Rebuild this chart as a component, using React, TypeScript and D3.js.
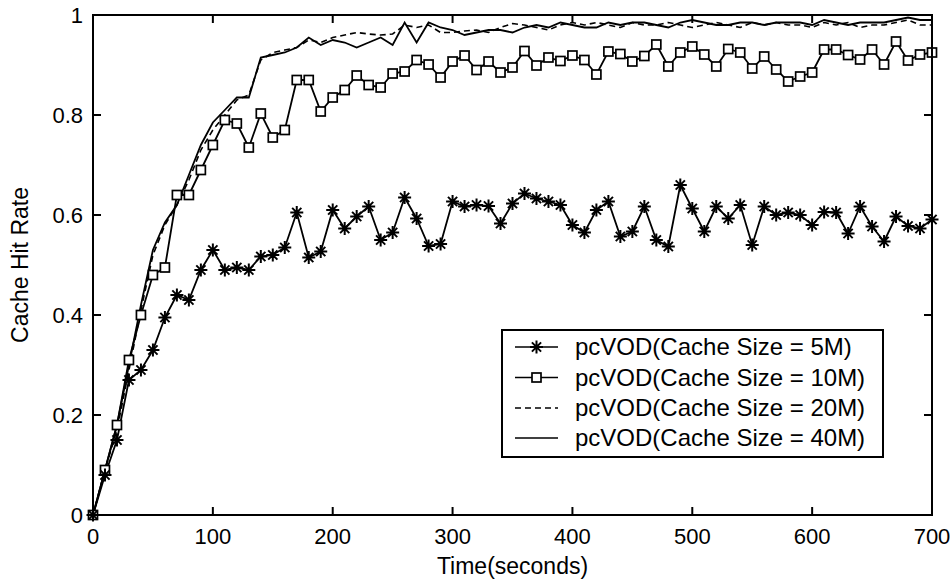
import React from "react";
import * as d3 from "d3";

// sampling times (seconds)
const times = [
  0, 10, 20, 30, 40, 50, 60, 70, 80, 90, 100, 110, 120, 130, 140, 150, 160, 170, 180, 190,
  200, 210, 220, 230, 240, 250, 260, 270, 280, 290, 300, 310, 320, 330, 340, 350, 360, 370, 380, 390,
  400, 410, 420, 430, 440, 450, 460, 470, 480, 490, 500, 510, 520, 530, 540, 550, 560, 570, 580, 590,
  600, 610, 620, 630, 640, 650, 660, 670, 680, 690, 700,
];

const hit5M = [
  0, 0.08, 0.15, 0.27, 0.29, 0.33, 0.395, 0.44, 0.43, 0.49, 0.53, 0.49, 0.495, 0.49, 0.517, 0.52, 0.535, 0.605, 0.515, 0.527,
  0.61, 0.573, 0.597, 0.617, 0.55, 0.565, 0.635, 0.593, 0.538, 0.542, 0.627, 0.617, 0.62, 0.618, 0.583, 0.623, 0.643, 0.633, 0.627, 0.62,
  0.58, 0.565, 0.61, 0.627, 0.557, 0.567, 0.617, 0.55, 0.537, 0.66, 0.613, 0.567, 0.617, 0.593, 0.62, 0.54, 0.617, 0.6, 0.605, 0.6,
  0.58, 0.606, 0.605, 0.563, 0.617, 0.577, 0.547, 0.597, 0.578, 0.573, 0.591,
];

const hit10M = [
  0, 0.09, 0.18, 0.31, 0.4, 0.48, 0.495, 0.64, 0.64, 0.69, 0.74, 0.79, 0.783, 0.735, 0.803, 0.755, 0.77, 0.87, 0.87, 0.807,
  0.835, 0.85, 0.879, 0.86, 0.855, 0.883, 0.887, 0.91, 0.901, 0.875, 0.907, 0.919, 0.89, 0.907, 0.885, 0.895, 0.928, 0.899, 0.915, 0.908,
  0.919, 0.91, 0.881, 0.927, 0.922, 0.907, 0.918, 0.941, 0.897, 0.925, 0.937, 0.921, 0.897, 0.932, 0.925, 0.893, 0.917, 0.891, 0.867, 0.877,
  0.885, 0.931, 0.931, 0.92, 0.911, 0.931, 0.901, 0.947, 0.909, 0.921, 0.925,
];

const hit20M = [
  0, 0.09, 0.17, 0.29, 0.41, 0.52, 0.58, 0.62, 0.67, 0.73, 0.77, 0.8, 0.83, 0.84, 0.91, 0.925, 0.93, 0.935, 0.95, 0.945,
  0.955, 0.96, 0.965, 0.962, 0.96, 0.962, 0.98, 0.975, 0.98, 0.965, 0.965, 0.968, 0.97, 0.965, 0.975, 0.983, 0.98, 0.975, 0.97, 0.98,
  0.985, 0.98, 0.985, 0.98, 0.975, 0.985, 0.98, 0.98, 0.985, 0.98, 0.975, 0.98, 0.985, 0.98, 0.975, 0.985, 0.98, 0.985, 0.98, 0.98,
  0.975, 0.985, 0.98, 0.985, 0.975, 0.98, 0.98, 0.985, 0.99, 0.98, 0.98,
];

const hit40M = [
  0, 0.09, 0.18, 0.3, 0.42, 0.53, 0.585, 0.62, 0.68, 0.74, 0.785, 0.81, 0.835, 0.835, 0.915, 0.92, 0.925, 0.935, 0.955, 0.94,
  0.95, 0.945, 0.935, 0.945, 0.955, 0.94, 0.985, 0.945, 0.985, 0.975, 0.97, 0.96, 0.965, 0.97, 0.97, 0.965, 0.975, 0.98, 0.975, 0.985,
  0.98, 0.975, 0.975, 0.985, 0.98, 0.985, 0.985, 0.98, 0.975, 0.985, 0.99, 0.985, 0.98, 0.98, 0.985, 0.985, 0.98, 0.985, 0.985, 0.985,
  0.98, 0.99, 0.985, 0.98, 0.985, 0.985, 0.985, 0.99, 0.995, 0.99, 0.99,
];

const xTicks = [0, 100, 200, 300, 400, 500, 600, 700];
const yTicks = [0, 0.2, 0.4, 0.6, 0.8, 1];
const yTickLabels = ["0", "0.2", "0.4", "0.6", "0.8", "1"];
const legendLabels = [
  "pcVOD(Cache Size = 5M)",
  "pcVOD(Cache Size = 10M)",
  "pcVOD(Cache Size = 20M)",
  "pcVOD(Cache Size = 40M)",
];

const W = 951;
const H = 583;
const font = "'Liberation Sans', Arial, sans-serif";
const starPath = "M-6.5,0H6.5M0,-6.5V6.5M-4.6,-4.6L4.6,4.6M-4.6,4.6L4.6,-4.6";

const Star = ({ cx, cy }: { cx: number; cy: number }) => (
  <path d={starPath} transform={`translate(${cx},${cy})`} stroke="#000" strokeWidth={2} fill="none" />
);

const Square = ({ cx, cy }: { cx: number; cy: number }) => (
  <rect x={cx - 4.5} y={cy - 4.5} width={9} height={9} fill="#fff" stroke="#000" strokeWidth={1.7} />
);

const App = () => {
  const x = d3.scaleLinear().domain([0, 700]).range([93, 932]);
  const y = d3.scaleLinear().domain([0, 1]).range([515, 15]);
  const line = d3
    .line<number>()
    .x((d, i) => x(times[i]))
    .y((d) => y(d));

  const [x0, x1] = x.range();
  const [y0, y1] = y.range();
  const tick = 8;

  const legX = 502;
  const legY = 330;
  const legW = 381;
  const legH = 127;
  const rows = [347, 377.5, 408, 438];
  const sx0 = 515;
  const sx1 = 558;

  return (
    <svg
      width={W}
      height={H}
      style={{ position: "absolute", left: 0, top: 0, background: "#fff" }}
      fontFamily={font}
    >
      <rect width={W} height={H} fill="#fff" />

      {/* series */}
      <path d={line(hit40M) || ""} fill="none" stroke="#000" strokeWidth={1.8} />
      <path d={line(hit20M) || ""} fill="none" stroke="#000" strokeWidth={1.6} strokeDasharray="6,4" />
      <path d={line(hit10M) || ""} fill="none" stroke="#000" strokeWidth={1.8} />
      <path d={line(hit5M) || ""} fill="none" stroke="#000" strokeWidth={1.8} />
      {hit10M.map((v, i) => (
        <Square key={"s" + i} cx={x(times[i])} cy={y(v)} />
      ))}
      {hit5M.map((v, i) => (
        <Star key={"t" + i} cx={x(times[i])} cy={y(v)} />
      ))}

      {/* axes box */}
      <rect x={x0} y={y1} width={x1 - x0} height={y0 - y1} fill="none" stroke="#000" strokeWidth={2} />
      {xTicks.map((t) => (
        <g key={"xt" + t}>
          <line x1={x(t)} x2={x(t)} y1={y0} y2={y0 - tick} stroke="#000" strokeWidth={2} />
          <line x1={x(t)} x2={x(t)} y1={y1} y2={y1 + tick} stroke="#000" strokeWidth={2} />
          <text x={x(t)} y={y0 + 29} textAnchor="middle" fontSize={22}>
            {t}
          </text>
        </g>
      ))}
      {yTicks.map((t, i) => (
        <g key={"yt" + t}>
          <line x1={x0} x2={x0 + tick} y1={y(t)} y2={y(t)} stroke="#000" strokeWidth={2} />
          <line x1={x1} x2={x1 - tick} y1={y(t)} y2={y(t)} stroke="#000" strokeWidth={2} />
          <text x={x0 - 10} y={y(t) + 8} textAnchor="end" fontSize={22}>
            {yTickLabels[i]}
          </text>
        </g>
      ))}

      <text x={(x0 + x1) / 2} y={574} textAnchor="middle" fontSize={23}>
        Time(seconds)
      </text>
      <text
        transform={`translate(28,${(y0 + y1) / 2}) rotate(-90)`}
        textAnchor="middle"
        fontSize={23}
      >
        Cache Hit Rate
      </text>

      {/* legend */}
      <rect x={legX} y={legY} width={legW} height={legH} fill="#fff" stroke="#000" strokeWidth={2} />
      {legendLabels.map((label, i) => (
        <g key={label}>
          <line
            x1={sx0}
            x2={sx1}
            y1={rows[i]}
            y2={rows[i]}
            stroke="#000"
            strokeWidth={1.6}
            strokeDasharray={i === 2 ? "6,4" : undefined}
          />
          {i === 0 && <Star cx={(sx0 + sx1) / 2} cy={rows[i]} />}
          {i === 1 && <Square cx={(sx0 + sx1) / 2} cy={rows[i]} />}
          <text x={575} y={rows[i] + 8} fontSize={24}>
            {label}
          </text>
        </g>
      ))}
    </svg>
  );
};

export default App;
